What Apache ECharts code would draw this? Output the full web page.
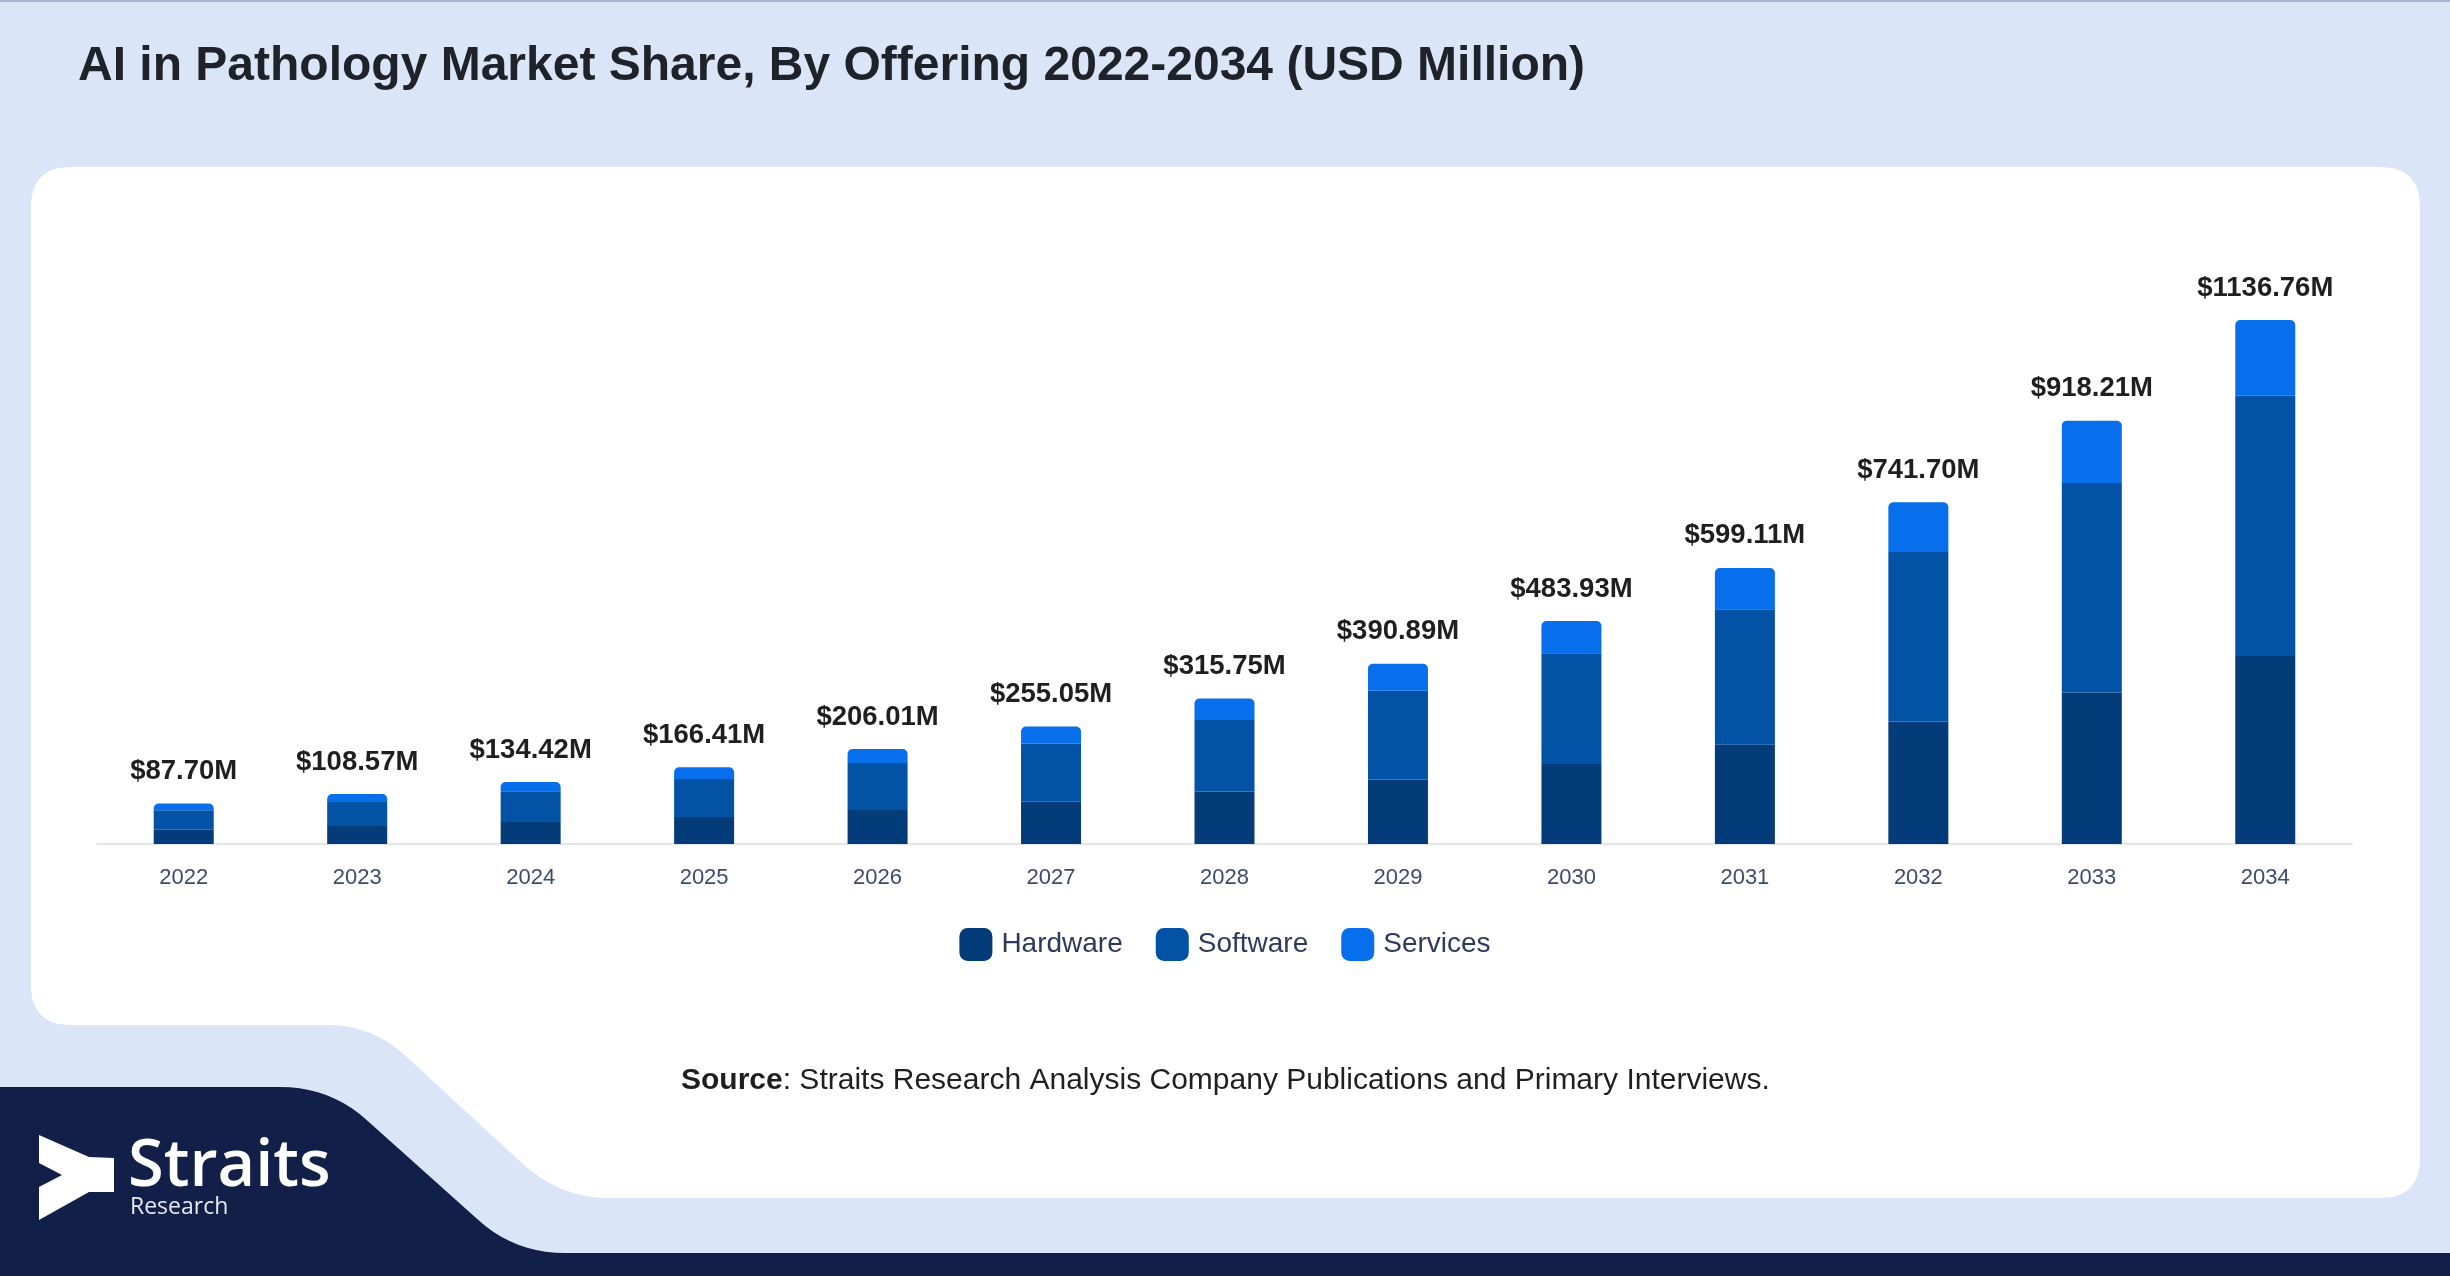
<!DOCTYPE html>
<html>
<head>
<meta charset="utf-8">
<script src="https://cdn.jsdelivr.net/npm/echarts@6/dist/echarts.min.js"></script>
<style>
html,body{margin:0;padding:0;background:#dae6f8;}
#chart{width:2450px;height:1276px;}
</style>
</head>
<body>
<div id="chart"></div>
<script>
const years = ['2022','2023','2024','2025','2026','2027','2028','2029','2030','2031','2032','2033','2034'];
const hardware = [30.7, 39.3, 47.9, 58.8, 73.7, 91.8, 113.9, 140.2, 173.6, 215.4, 265.9, 328.6, 407.8];
const software = [42.8, 52.1, 66.5, 82.5, 101.9, 126.4, 155.0, 192.2, 240.2, 294.1, 367.7, 454.6, 564.8];
const services = [14.3, 17.1, 20.0, 25.1, 30.4, 36.8, 46.9, 58.5, 70.2, 89.6, 108.1, 135.0, 164.2];
const totals = [87.70, 108.57, 134.42, 166.41, 206.01, 255.05, 315.75, 390.89, 483.93, 599.11, 741.70, 918.21, 1136.76];

function roundPoly(pts, radii, segs) {
  segs = segs || 10;
  const out = [];
  const n = pts.length;
  for (let i = 0; i < n; i++) {
    const p = pts[i], pr = pts[(i - 1 + n) % n], nx = pts[(i + 1) % n];
    const r = radii[i];
    if (!r) { out.push(p); continue; }
    const d1x = pr[0] - p[0], d1y = pr[1] - p[1], l1 = Math.hypot(d1x, d1y);
    const d2x = nx[0] - p[0], d2y = nx[1] - p[1], l2 = Math.hypot(d2x, d2y);
    const a = [p[0] + d1x / l1 * r, p[1] + d1y / l1 * r];
    const b = [p[0] + d2x / l2 * r, p[1] + d2y / l2 * r];
    for (let k = 0; k <= segs; k++) {
      const t = k / segs;
      out.push([
        (1 - t) * (1 - t) * a[0] + 2 * (1 - t) * t * p[0] + t * t * b[0],
        (1 - t) * (1 - t) * a[1] + 2 * (1 - t) * t * p[1] + t * t * b[1]
      ]);
    }
  }
  return out;
}

const cardPts = roundPoly([[31,167],[2420,167],[2420,1198],[560,1198],[372,1025],[31,1025]], [40,40,40,50,45,40]);
const navyPts = roundPoly([[0,1087],[330,1087],[515,1253],[2450,1253],[2450,1276],[0,1276]], [0,50,50,0,0,0]);
const logoPts = [[39,1135],[89,1157],[114,1158],[114,1192],[89,1192],[39,1220],[39,1187],[62,1175],[39,1163]];

const chart = echarts.init(document.getElementById('chart'), null, {renderer: 'canvas'});
const FONT = '"Liberation Sans", Arial, sans-serif';

chart.setOption({
  backgroundColor: '#dae6f8',
  animation: false,
  textStyle: {fontFamily: FONT},
  title: {
    text: 'AI in Pathology Market Share, By Offering 2022-2034 (USD Million)',
    left: 73, top: 38,
    textStyle: {fontFamily: FONT, fontSize: 48, fontWeight: 'bold', color: '#1f2329'}
  },
  graphic: [
    {type: 'rect', z: -10, shape: {x: 0, y: 0, width: 2450, height: 2}, style: {fill: '#a7b3cf'}},
    {type: 'polygon', z: -9, shape: {points: cardPts}, style: {fill: '#ffffff'}},
    {type: 'polygon', z: -9, shape: {points: navyPts}, style: {fill: '#121f48'}},
    {type: 'polygon', z: -8, shape: {points: logoPts}, style: {fill: '#ffffff'}},
    {type: 'text', z: -8, x: 128, y: 1200, style: {text: 'Straits', fill: '#ffffff', font: '600 65px "Open Sans", sans-serif', textVerticalAlign: 'bottom'}},
    {type: 'text', z: -8, x: 130, y: 1207, style: {text: 'Research', fill: '#e6e9f0', font: '400 23px "Open Sans", sans-serif', textVerticalAlign: 'middle'}},
    {type: 'text', z: -8, x: 681, y: 1081, style: {
      text: '{b|Source}: Straits Research Analysis Company Publications and Primary Interviews.',
      fill: '#1f1f1f', font: '30px "Liberation Sans", Arial, sans-serif', textVerticalAlign: 'middle',
      rich: {b: {fontWeight: 'bold', fontSize: 30, fontFamily: FONT, fill: '#1f1f1f'}}
    }}
  ],
  legend: {
    top: 923, left: 'center',
    itemWidth: 33, itemHeight: 33, itemGap: 33,
    icon: 'roundRect',
    textStyle: {fontFamily: FONT, fontSize: 28, color: '#2d3a5c', padding: [0, 0, 0, 4]},
    data: ['Hardware', 'Software', 'Services']
  },
  grid: {left: 97, right: 98, top: 291, bottom: 432, containLabel: false},
  xAxis: {
    type: 'category', data: years,
    axisLine: {lineStyle: {color: '#e2e4e8', width: 2}},
    axisTick: {show: false},
    axisLabel: {fontFamily: FONT, fontSize: 22, color: '#3d4a6b', margin: 23}
  },
  yAxis: {type: 'value', min: 0, max: 1200, show: false, splitLine: {show: false}},
  series: [
    {name: 'Hardware', type: 'bar', stack: 'total', barWidth: 60, data: hardware, itemStyle: {color: '#043b79'}},
    {name: 'Software', type: 'bar', stack: 'total', barWidth: 60, data: software, itemStyle: {color: '#0253a6'}},
    {name: 'Services', type: 'bar', stack: 'total', barWidth: 60, data: services,
      itemStyle: {color: '#076fec', borderRadius: [5, 5, 0, 0]},
      label: {
        show: true, position: 'top', distance: 18,
        fontFamily: FONT, fontSize: 27.5, fontWeight: 'bold', color: '#1f1f1f',
        formatter: p => '$' + totals[p.dataIndex].toFixed(2) + 'M'
      }
    }
  ]
});
</script>
</body>
</html>
